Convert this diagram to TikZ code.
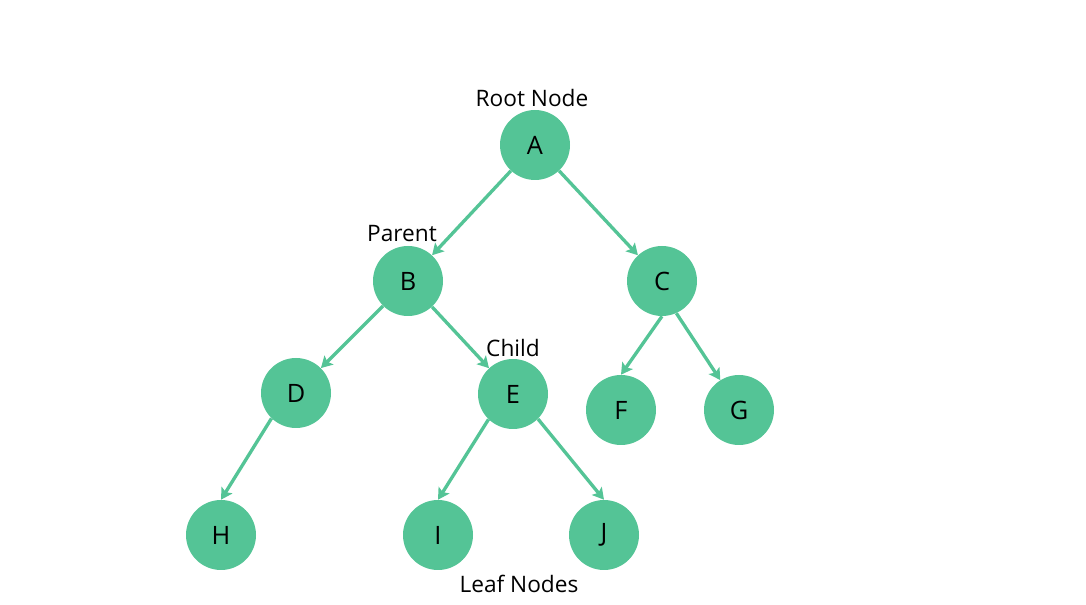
\documentclass[tikz,border=0pt]{standalone}
\usepackage{fontspec}
\setmainfont{Open Sans}
\usetikzlibrary{arrows.meta}
\definecolor{treegreen}{RGB}{84,196,150}
\begin{document}
\begin{tikzpicture}[x=0.75pt,y=0.75pt,yscale=-1,xscale=1,
  treenode/.style={circle, fill=treegreen, minimum size=52.5pt, inner sep=0pt, font=\fontsize{19}{22}\selectfont},
  tag/.style={font=\fontsize{17}{20}\selectfont, inner sep=0pt},
  edge/.style={draw=treegreen, line width=2.5pt, -{Stealth[length=8.5pt,width=9.5pt,inset=1.8pt]}}]
\useasboundingbox (0,0) rectangle (1086,605);

\node[treenode] (A) at (535,145) {A};
\node[treenode] (B) at (408,281) {B};
\node[treenode] (C) at (662,281) {C};
\node[treenode] (D) at (296,393) {D};
\node[treenode] (E) at (513,394) {E};
\node[treenode] (F) at (621,410) {F};
\node[treenode] (G) at (739,410) {G};
\node[treenode] (H) at (221,535) {H};
\node[treenode] (I) at (438,535) {I};
\node[treenode] (J) at (604,535) {J};

\draw[edge] (A) -- (B);
\draw[edge] (A) -- (C);
\draw[edge] (B) -- (D);
\draw[edge] (B) -- (E);
\draw[edge] (C.-90) -- (F.90);
\draw[edge] (C.-66) -- (G.122);
\draw[edge] (D.226) -- (H.90);
\draw[edge] (E.226) -- (I.90);
\draw[edge] (E.-45) -- (J.90);

\node[tag] (root) at (532,98) {Root Node};
\node[tag] (parent) at (402,234) {Parent};
\node[tag] (child) at (513,348) {Child};
\node[tag] (leaf) at (519,584) {Leaf Nodes};
\end{tikzpicture}
\end{document}
